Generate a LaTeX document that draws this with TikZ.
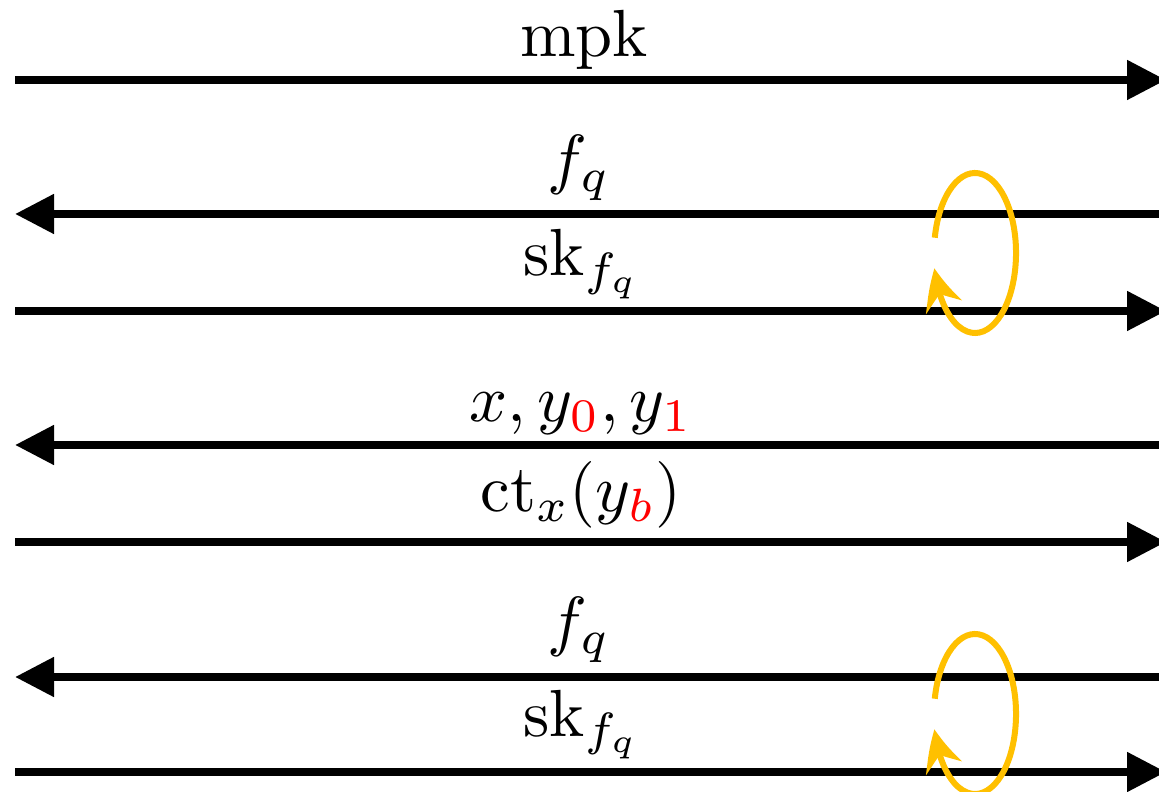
\documentclass[tikz,border=0pt]{standalone}
\usetikzlibrary{arrows.meta,bending}
\definecolor{loopgold}{HTML}{FFC000}
\tikzset{
  msg/.style={line width=1.2pt, -{Triangle[length=5.85pt,width=5.7pt]}},
  refresh/.style={loopgold, line width=0.9pt, -{Stealth[length=6pt,width=5.7pt,inset=2.1pt,bend]}},
  lbl/.style={anchor=base, inner sep=0pt}
}
\begin{document}
\begin{tikzpicture}[x=0.15pt, y=0.15pt, font=\fontsize{10}{12}\selectfont]
    \useasboundingbox (0,0) rectangle (1159,791);

    % 端点
    \coordinate (l1) at (15,711);  \coordinate (r1) at (1166,711);
    \coordinate (l2) at (15,577);  \coordinate (r2) at (1175,577);
    \coordinate (l3) at (15,480);  \coordinate (r3) at (1166,480);
    \coordinate (l4) at (15,346);  \coordinate (r4) at (1175,346);
    \coordinate (l5) at (15,249);  \coordinate (r5) at (1166,249);
    \coordinate (l6) at (15,114);  \coordinate (r6) at (1175,114);
    \coordinate (l7) at (15,19);   \coordinate (r7) at (1166,19);

    % 消息
    \draw[msg] (l1) -- (r1);
    \draw[msg] (r2) -- (l2);
    \draw[msg] (l3) -- (r3);
    \draw[msg] (r4) -- (l4);
    \draw[msg] (l5) -- (r5);
    \draw[msg] (r6) -- (l6);
    \draw[msg] (l7) -- (r7);

    % 标注
    \node[lbl] (t1) at (584,734) {mpk};
    \node[lbl] (t2) at (579,609) {$f_q$};
    \node[lbl] (t3) at (582,515) {sk$_{f_q}$};
    \node[lbl] (t4) at (581,369) {$x, y_{\textcolor{red}{0}}, y_{\textcolor{red}{1}}$};
    \node[lbl] (t5) at (581,279) {ct$_x(y_{\textcolor{red}{b}})$};
    \node[lbl] (t6) at (579,147) {$f_q$};
    \node[lbl] (t7) at (582,55) {sk$_{f_q}$};

    % 循环
    \coordinate (c1) at (975,538);
    \coordinate (c2) at (975,77);
    \draw[refresh] (c1) ++(169:41 and 80) arc[start angle=169, end angle=-169, x radius=41, y radius=80];
    \draw[refresh] (c2) ++(169:41 and 80) arc[start angle=169, end angle=-169, x radius=41, y radius=80];
\end{tikzpicture}
\end{document}
